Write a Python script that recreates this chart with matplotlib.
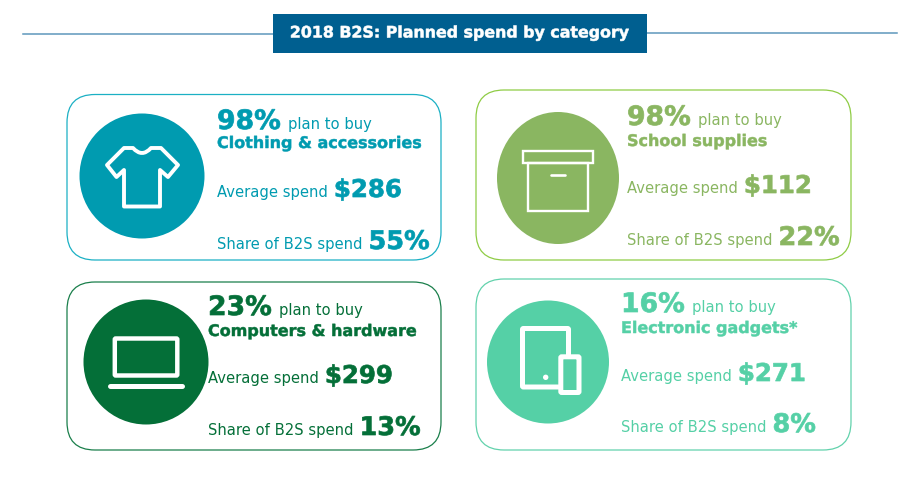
import matplotlib
matplotlib.use("Agg")
import matplotlib.pyplot as plt
import matplotlib.patheffects as pe
from matplotlib.patches import Circle, Ellipse, FancyBboxPatch, PathPatch, Rectangle
from matplotlib.path import Path

plt.rcParams["font.family"] = ["DejaVu Sans"]

TITLE = "2018 B2S: Planned spend by category"
categories = ["Clothing & accessories", "School supplies", "Computers & hardware", "Electronic gadgets*"]
plan_pct = ["98%", "98%", "23%", "16%"]
avg_spend = ["$286", "$112", "$299", "$271"]
share_pct = ["55%", "22%", "13%", "8%"]
fill_colors = ["#009BB0", "#8AB661", "#046F38", "#55D0A6"]
edge_colors = ["#1BB0C4", "#8FCC45", "#1A7F4B", "#62D2AC"]

# card layout in pixels: box, circle centre + radii, text x, baselines
boxes = [(67, 94.5, 441, 260), (476, 90, 851, 260), (67, 282, 441, 450), (476, 279, 851, 450)]
circles = [(142, 176, 62.5, 62.5), (558, 178, 61, 66), (146, 362, 62.5, 62.5), (548, 362, 61, 61.5)]
text_x = [217, 627, 208, 621]
baselines = [(129, 148, 197, 249), (125, 146, 193, 245), (315, 336, 383, 435), (312, 333, 381, 432)]

PLAN_SIZE = 19.2
AVG_SIZE = 17.6
SHARE_SIZE = 18.4
MID = 11.5
SMALL = 10.6

fig = plt.figure(figsize=(9.03, 4.86), dpi=100)
ax = fig.add_axes([0, 0, 1, 1])
ax.set_xlim(0, 903)
ax.set_ylim(486, 0)
ax.axis("off")


def heavy(color, w=0.5):
    # Verdana bold in the original is heavier than DejaVu bold
    return [pe.Stroke(linewidth=w, foreground=color)]


def text_pair(x, y, first, second, size1, size2, weight1, weight2, color, gap=6):
    # draw two runs of text on one baseline, second starts where first ends
    renderer = fig.canvas.get_renderer()
    t = ax.text(x, y, first, fontsize=size1, fontweight=weight1, color=color, va="baseline")
    if weight1 == "bold":
        t.set_path_effects(heavy(color))
    end = t.get_window_extent(renderer).x1
    t2 = ax.text(end + gap, y, second, fontsize=size2, fontweight=weight2, color=color, va="baseline")
    if weight2 == "bold":
        t2.set_path_effects(heavy(color))


def draw_shirt(c):
    verts = [(124, 148), (133, 148), (142, 158), (151, 148), (161, 148), (178, 165), (168, 177),
             (160, 170), (160, 206.5), (124, 206.5), (124, 170), (116.5, 177), (107, 165), (124, 148)]
    codes = [Path.MOVETO, Path.LINETO, Path.CURVE3, Path.CURVE3, Path.LINETO, Path.LINETO, Path.LINETO,
             Path.LINETO, Path.LINETO, Path.LINETO, Path.LINETO, Path.LINETO, Path.LINETO, Path.CLOSEPOLY]
    ax.add_patch(PathPatch(Path(verts, codes), fc="none", ec=c, lw=2.8, joinstyle="round"))


def draw_box(c):
    ax.add_patch(Rectangle((523, 151), 70, 12, fc="none", ec=c, lw=1.7))
    ax.add_patch(Rectangle((528.5, 163), 60, 48, fc="none", ec=c, lw=1.7))
    ax.plot([551, 565], [175.5, 175.5], color=c, lw=1.9, solid_capstyle="round")


def draw_laptop(c):
    ax.add_patch(FancyBboxPatch((114.8, 338.5), 62.5, 37, boxstyle="round,pad=0,rounding_size=1",
                                fc="none", ec=c, lw=3.2))
    ax.plot([109.8, 182.5], [385.5, 385.5], color=c, lw=3.6, solid_capstyle="round")


def draw_tablet(c, bg):
    ax.add_patch(FancyBboxPatch((522.5, 328.5), 46, 58.5, boxstyle="round,pad=0,rounding_size=1",
                                fc="none", ec=c, lw=3.6))
    ax.add_patch(FancyBboxPatch((560.8, 356.8), 18.2, 35.7, boxstyle="round,pad=0,rounding_size=1",
                                fc=bg, ec=c, lw=3.6))
    ax.add_patch(Circle((545.7, 377.3), 2.7, fc=c, ec="none"))


# header
ax.plot([23, 273], [34, 34], color="#5E97BC", lw=1.1)
ax.plot([647, 897], [33, 33], color="#5E97BC", lw=1.1)
ax.add_patch(Rectangle((273, 14), 374, 39, fc="#005F90", ec="none", zorder=3))
ax.text(460, 33, TITLE, color="white", fontsize=11.4, fontweight="bold", ha="center", va="center", zorder=4,
        path_effects=heavy("white", 0.4))

icons = [draw_shirt, draw_box, draw_laptop, lambda c: draw_tablet(c, fill_colors[3])]

for i, cat in enumerate(categories):
    col = fill_colors[i]
    x0, y0, x1, y1 = boxes[i]
    ax.add_patch(FancyBboxPatch((x0, y0), x1 - x0, y1 - y0, boxstyle="round,pad=0,rounding_size=28",
                                fc="white", ec=edge_colors[i], lw=0.9))
    cx, cy, rx, ry = circles[i]
    ax.add_patch(Ellipse((cx, cy), 2 * rx, 2 * ry, fc=col, ec="none"))
    icons[i]("white")

    x = text_x[i]
    b = baselines[i]
    text_pair(x, b[0], plan_pct[i], "plan to buy", PLAN_SIZE, SMALL, "bold", "normal", col, gap=7)
    ax.text(x, b[1], cat, fontsize=MID, fontweight="bold", color=col, va="baseline", path_effects=heavy(col, 0.35))
    text_pair(x, b[2], "Average spend", avg_spend[i], SMALL, AVG_SIZE, "normal", "bold", col)
    text_pair(x, b[3], "Share of B2S spend", share_pct[i], SMALL, SHARE_SIZE, "normal", "bold", col)

fig.savefig("out.png", dpi=100)
